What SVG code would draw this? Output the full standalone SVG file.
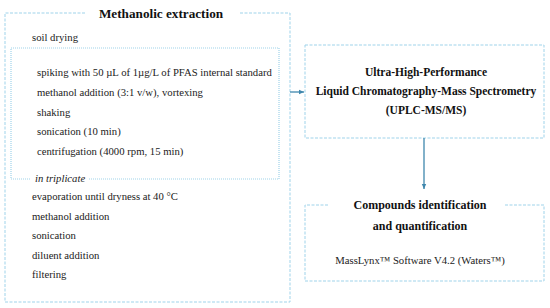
<svg xmlns="http://www.w3.org/2000/svg" width="550" height="308" viewBox="0 0 550 308">
<defs>
<style>
.dash{fill:none;stroke:#9fd3ea;stroke-width:1;stroke-dasharray:3 1.5}
.dot{fill:none;stroke:#9fd3ea;stroke-width:1.2;stroke-dasharray:1 1}
.t{font-family:"Liberation Serif","DejaVu Serif",serif;font-size:10.7px;fill:#222}
.b{font-family:"Liberation Serif","DejaVu Serif",serif;font-weight:bold;fill:#111}
.c{stroke:#3f87ad;stroke-width:1.3;fill:none}
</style>
<marker id="ah" markerWidth="6" markerHeight="6" refX="5" refY="3" orient="auto" markerUnits="userSpaceOnUse">
<path d="M0,0.8 L5,3 L0,5.2 Z" fill="#3f87ad"/>
</marker>
</defs>
<rect width="550" height="308" fill="#fff"/>
<g id="extraction">
<path class="dash" d="M85,13 H5 V302 H290 V13 H240"/>
<text class="b" x="161" y="18" font-size="13.2" text-anchor="middle">Methanolic extraction</text>
<text class="t" x="32" y="41">soil drying</text>
<g id="triplicate">
<path class="dot" d="M30,179 H11 V48 H279 V179 H88"/>
<text class="t" x="35" y="182" font-style="italic" font-size="10.8">in triplicate</text>
<text class="t" x="37" y="76">spiking with 50 µL of 1µg/L of PFAS internal standard</text>
<text class="t" x="37" y="96">methanol addition (3:1 v/w), vortexing</text>
<text class="t" x="37" y="116">shaking</text>
<text class="t" x="37" y="135">sonication (10 min)</text>
<text class="t" x="37" y="155">centrifugation (4000 rpm, 15 min)</text>
</g>
<text class="t" x="32" y="200">evaporation until dryness at 40 °C</text>
<text class="t" x="32" y="220">methanol addition</text>
<text class="t" x="32" y="239">sonication</text>
<text class="t" x="32" y="259">diluent addition</text>
<text class="t" x="32" y="278">filtering</text>
</g>
<g id="uplc">
<rect class="dash" x="305" y="45" width="239" height="93"/>
<text class="b" x="426" y="76" font-size="11.5" text-anchor="middle">Ultra-High-Performance</text>
<text class="b" x="426" y="95" font-size="11.5" text-anchor="middle">Liquid Chromatography-Mass Spectrometry</text>
<text class="b" x="426" y="114" font-size="11.5" text-anchor="middle">(UPLC-MS/MS)</text>
</g>
<g id="compounds">
<path class="dash" d="M328,205 H305 V281 H544 V205 H505"/>
<text class="b" x="420" y="209" font-size="12" text-anchor="middle">Compounds identification</text>
<text class="b" x="420" y="230" font-size="12" text-anchor="middle">and quantification</text>
<text class="t" x="420" y="264" font-size="9.9" text-anchor="middle">MassLynx™ Software V4.2 (Waters™)</text>
</g>
<g id="connectors">
<line class="c" x1="290" y1="92" x2="304" y2="92" marker-end="url(#ah)"/>
<line class="c" x1="424" y1="138" x2="424" y2="189" marker-end="url(#ah)"/>
</g>
</svg>
